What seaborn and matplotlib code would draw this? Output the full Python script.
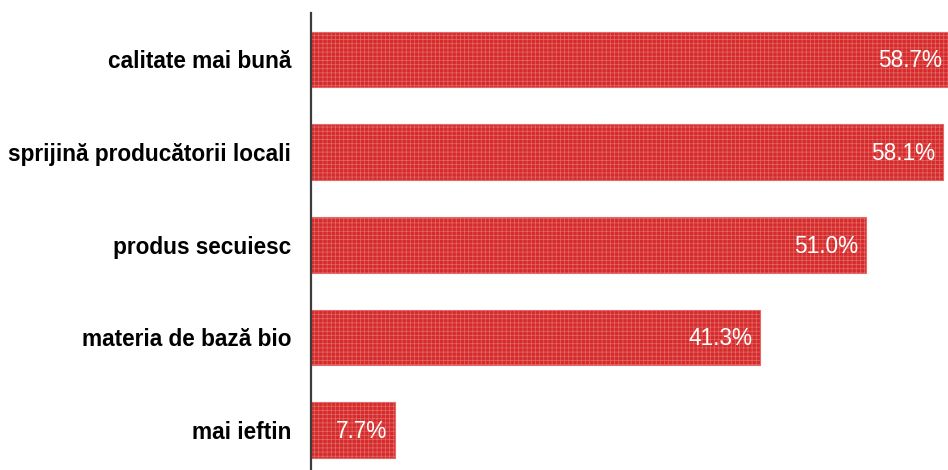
import matplotlib
matplotlib.use("Agg")
import matplotlib.pyplot as plt
import seaborn as sns
import pandas as pd

# Reasons for choosing local products (share of respondents, %)
categories = [
    "calitate mai bună",
    "sprijină producătorii locali",
    "produs secuiesc",
    "materia de bază bio",
    "mai ieftin",
]
values = [58.7, 58.1, 51.0, 41.3, 7.7]

df = pd.DataFrame({"motiv": categories, "procent": values})

sns.set_theme(style="white")
plt.rcParams["font.family"] = ["Liberation Sans", "DejaVu Sans"]
plt.rcParams["hatch.color"] = "#c41e1e"
plt.rcParams["hatch.linewidth"] = 0.5

fig = plt.figure(figsize=(9.48, 4.70), dpi=100)
ax = fig.add_axes([311 / 948, 0.0, 1 - 311 / 948, 1 - 13 / 470])

sns.barplot(
    data=df, x="procent", y="motiv", orient="h",
    color="#d62b2b", saturation=1, width=0.6, ax=ax,
)
for patch in ax.patches:
    patch.set_facecolor("#d62b2b")
    patch.set_edgecolor("#e26a6a")
    patch.set_linewidth(0.8)
    patch.set_hatch("++++")

ax.set_xlim(0, 58.55)
ax.set_ylim(4.43, -0.5)

# value labels inside the bar ends
for i, v in enumerate(values):
    ax.text(v - 0.74, i + 0.015, f"{v:.1f}%", ha="right", va="center",
            color="white", fontsize=16.3, clip_on=False)

for side in ("top", "right", "bottom"):
    ax.spines[side].set_visible(False)
ax.spines["left"].set_color("#3c3c3c")
ax.spines["left"].set_linewidth(1.6)

ax.set_xticks([])
ax.set_xlabel("")
ax.set_ylabel("")
ax.tick_params(axis="y", length=0, pad=14.4)
for lbl in ax.get_yticklabels():
    lbl.set_fontweight("bold")
    lbl.set_fontsize(16.25)
    lbl.set_color("black")

fig.savefig("out.png", dpi=100)
